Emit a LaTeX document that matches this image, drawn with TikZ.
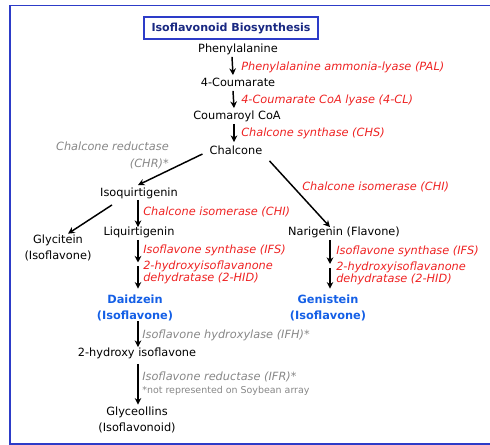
\documentclass[tikz,border=0pt]{standalone}
\usepackage{fontspec}
\setmainfont{DejaVu Sans}
\usetikzlibrary{arrows.meta,calc}
\definecolor{frameblue}{RGB}{45,60,200}
\definecolor{titleblue}{RGB}{25,40,130}
\definecolor{enzred}{RGB}{238,34,34}
\definecolor{enzgray}{RGB}{135,135,135}
\definecolor{prodblue}{RGB}{20,95,230}
\begin{document}
\begin{tikzpicture}[x=0.75pt,y=-0.75pt,
  mol/.style={inner sep=0pt, font=\fontsize{8.5}{12}\selectfont, align=center},
  one/.style={text height=6.5pt, text depth=2pt},
  prod/.style={mol, text=prodblue, font=\fontsize{8.5}{12}\selectfont\bfseries},
  enz/.style={inner sep=0pt, anchor=west, text=enzred, align=left,
    font=\fontsize{8.5}{9}\selectfont\itshape},
  genz/.style={enz, text=enzgray},
  note/.style={inner sep=0pt, anchor=west, text=enzgray, font=\fontsize{7.1}{9}\selectfont},
  arr/.style={draw=black, line width=1.1pt, -{Stealth[length=5pt,width=5pt]}},
  titlebox/.style={draw=frameblue, line width=1pt, text=titleblue,
    font=\fontsize{8.3}{10}\selectfont\bfseries, minimum width=130.5pt, minimum height=16.5pt, inner sep=0pt}
]
\useasboundingbox (0,0) rectangle (490,445);
% frame
\draw[frameblue, line width=1.3pt] (492,5.5) -- (10,5.5) -- (10,444) -- (492,444);

\node[titlebox] (title) at (231,28) {Isoflavonoid Biosynthesis};

\node[mol,one] (phe) at (238,50) {Phenylalanine};
\node[mol,one] (cou) at (238,84) {4-Coumarate};
\node[mol,one] (coa) at (237,117) {Coumaroyl CoA};
\node[mol,one] (cha) at (236,152) {Chalcone};
\node[mol,one] (iso) at (139,194) {Isoquirtigenin};
\node[mol,one] (liq) at (139,233) {Liquirtigenin};
\node[mol,one] (nar) at (344,233) {Narigenin (Flavone)};
\node[mol] (gly) at (58,248) {Glycitein\\(Isoflavone)};
\node[prod] (dai) at (135,308) {Daidzein\\(Isoflavone)};
\node[prod] (gen) at (328,308) {Genistein\\(Isoflavone)};
\node[mol,one] (hyd) at (137,354) {2-hydroxy isoflavone};
\node[mol] (glc) at (137,420) {Glyceollins\\(Isoflavonoid)};

\node[enz] (pal) at (241,67) {Phenylalanine ammonia-lyase (PAL)};
\node[enz] (fcl) at (241,100) {4-Coumarate CoA lyase (4-CL)};
\node[enz] (chs) at (241,133) {Chalcone synthase (CHS)};
\node[genz, anchor=east, align=right, font=\fontsize{8.5}{12.75}\selectfont\itshape] (chr) at (169,155) {Chalcone reductase\\(CHR)*};
\node[enz] (chir) at (302,187) {Chalcone isomerase (CHI)};
\node[enz] (chil) at (143,212) {Chalcone isomerase (CHI)};
\node[enz] (ifsl) at (143,250) {Isoflavone synthase (IFS)};
\node[enz] (hidl) at (143,272) {2-hydroxyisoflavanone\\dehydratase (2-HID)};
\node[enz] (ifsr) at (336,251) {Isoflavone synthase (IFS)};
\node[enz] (hidr) at (336,273) {2-hydroxyisoflavanone\\dehydratase (2-HID)};
\node[genz] (ifh) at (142,335) {Isoflavone hydroxylase (IFH)*};
\node[genz] (ifr) at (142,377) {Isoflavone reductase (IFR)*};
\node[note] (nt) at (142,391) {*not represented on Soybean array};

\coordinate (lm) at (138,264.5);
\coordinate (nm) at (330,266);

\draw[arr] ($(phe.south)+(-6,1)$) -- ($(cou.north)+(-5,-3)$);
\draw[arr] ($(cou.south)+(-5,1)$) -- ($(coa.north)+(-3,-3)$);
\draw[arr] ($(coa.south)+(-3,1)$) -- ($(cha.north)+(-2,-4)$);
\draw[arr] ($(cha.west)+(-7,2)$) -- ($(iso.north)+(-1,-3)$);
\draw[arr] ($(cha.south east)+(7,3)$) -- ($(nar.north)+(-14,0)$);
\draw[arr] ($(iso.south)+(-27,5)$) -- ($(gly.north)+(10,-1)$);
\draw[arr] ($(iso.south)+(-1,0)$) -- ($(liq.north)+(-1,0)$);
\draw[arr] ($(liq.south)+(-1,1)$) -- ($(lm)+(0,-2)$);
\draw[arr] ($(lm)+(0,2)$) -- ($(dai.north)+(3,-6)$);
\draw[arr] ($(nar.south)+(-14,1)$) -- ($(nm)+(0,-2)$);
\draw[arr] ($(nm)+(0,2)$) -- ($(gen.north)+(2,-6)$);
\draw[arr] ($(dai.south)+(3,0)$) -- ($(hyd.north)+(1,-1)$);
\draw[arr] ($(hyd.south)+(1,4)$) -- ($(glc.north)+(1,-2)$);
\end{tikzpicture}
\end{document}
